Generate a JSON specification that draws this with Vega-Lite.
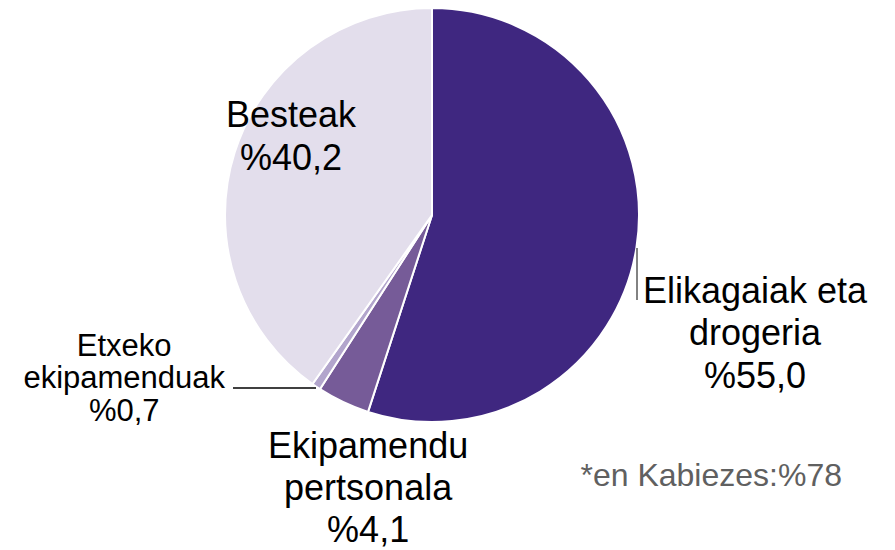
{
  "$schema": "https://vega.github.io/schema/vega-lite/v6.json",
  "width": 864,
  "height": 430,
  "padding": 0,
  "autosize": {"type": "pad"},
  "background": "white",
  "config": {"view": {"stroke": null}, "font": "Liberation Sans"},
  "title": {
    "text": "*en Kabiezes:%78",
    "orient": "bottom",
    "anchor": "end",
    "frame": "group",
    "font": "Liberation Sans",
    "fontSize": 32,
    "fontWeight": "normal",
    "color": "#606060",
    "baseline": "alphabetic",
    "offset": -68,
    "dx": -22
  },
  "data": {
    "values": [
      {"categoria": "Elikagaiak eta drogeria", "orden": 1, "pct": 55.0, "etiketa": "Elikagaiak eta\ndrogeria\n%55,0"},
      {"categoria": "Ekipamendu pertsonala", "orden": 2, "pct": 4.1, "etiketa": "Ekipamendu\npertsonala\n%4,1"},
      {"categoria": "Etxeko ekipamenduak", "orden": 3, "pct": 0.7, "etiketa": "Etxeko\nekipamenduak\n%0,7"},
      {"categoria": "Besteak", "orden": 4, "pct": 40.2, "etiketa": "Besteak\n%40,2"}
    ]
  },
  "layer": [
    {
      "mark": {"type": "arc", "outerRadius": 207, "stroke": "white", "strokeWidth": 2},
      "encoding": {
        "theta": {"field": "pct", "type": "quantitative", "stack": true},
        "order": {"field": "orden", "type": "quantitative"},
        "color": {
          "field": "categoria",
          "type": "nominal",
          "scale": {
            "domain": ["Elikagaiak eta drogeria", "Ekipamendu pertsonala", "Etxeko ekipamenduak", "Besteak"],
            "range": ["#3f2780", "#765b98", "#b2a5cc", "#e3deec"]
          },
          "legend": null
        }
      }
    },
    {
      "mark": {"type": "text", "radius": 327, "dy": 25.5, "fontSize": 36, "lineHeight": 42.5, "lineBreak": "\n", "align": "center", "baseline": "middle", "color": "#000000", "font": "Liberation Sans"},
      "encoding": {
        "theta": {"field": "pct", "type": "quantitative", "stack": true},
        "order": {"field": "orden", "type": "quantitative"},
        "text": {"condition": {"test": "datum.orden === 1", "field": "etiketa", "type": "nominal"}, "value": ""}
      }
    },
    {
      "mark": {"type": "text", "radius": 303, "dx": 66, "dy": -42, "fontSize": 36, "lineHeight": 42, "lineBreak": "\n", "align": "center", "baseline": "middle", "color": "#000000", "font": "Liberation Sans"},
      "encoding": {
        "theta": {"field": "pct", "type": "quantitative", "stack": true},
        "order": {"field": "orden", "type": "quantitative"},
        "text": {"condition": {"test": "datum.orden === 2", "field": "etiketa", "type": "nominal"}, "value": ""}
      }
    },
    {
      "mark": {"type": "text", "radius": 198, "dx": -197, "dy": -32.5, "fontSize": 31, "lineHeight": 32.5, "lineBreak": "\n", "align": "center", "baseline": "middle", "color": "#000000", "font": "Liberation Sans"},
      "encoding": {
        "theta": {"field": "pct", "type": "quantitative", "stack": true},
        "order": {"field": "orden", "type": "quantitative"},
        "text": {"condition": {"test": "datum.orden === 3", "field": "etiketa", "type": "nominal"}, "value": ""}
      }
    },
    {
      "mark": {"type": "text", "radius": 148, "dy": -54, "fontSize": 36, "lineHeight": 43, "lineBreak": "\n", "align": "center", "baseline": "middle", "color": "#000000", "font": "Liberation Sans"},
      "encoding": {
        "theta": {"field": "pct", "type": "quantitative", "stack": true},
        "order": {"field": "orden", "type": "quantitative"},
        "text": {"condition": {"test": "datum.orden === 4", "field": "etiketa", "type": "nominal"}, "value": ""}
      }
    },
    {
      "data": {"values": [{"lerroa": "Elikagaiak"}]},
      "mark": {"type": "rule", "stroke": "#595959", "strokeWidth": 1.5},
      "encoding": {"x": {"value": 637}, "y": {"value": 248}, "y2": {"value": 300}}
    },
    {
      "data": {"values": [{"lerroa": "Etxeko"}]},
      "mark": {"type": "rule", "stroke": "#404040", "strokeWidth": 2},
      "encoding": {"x": {"value": 233}, "x2": {"value": 316}, "y": {"value": 388}}
    }
  ]
}
